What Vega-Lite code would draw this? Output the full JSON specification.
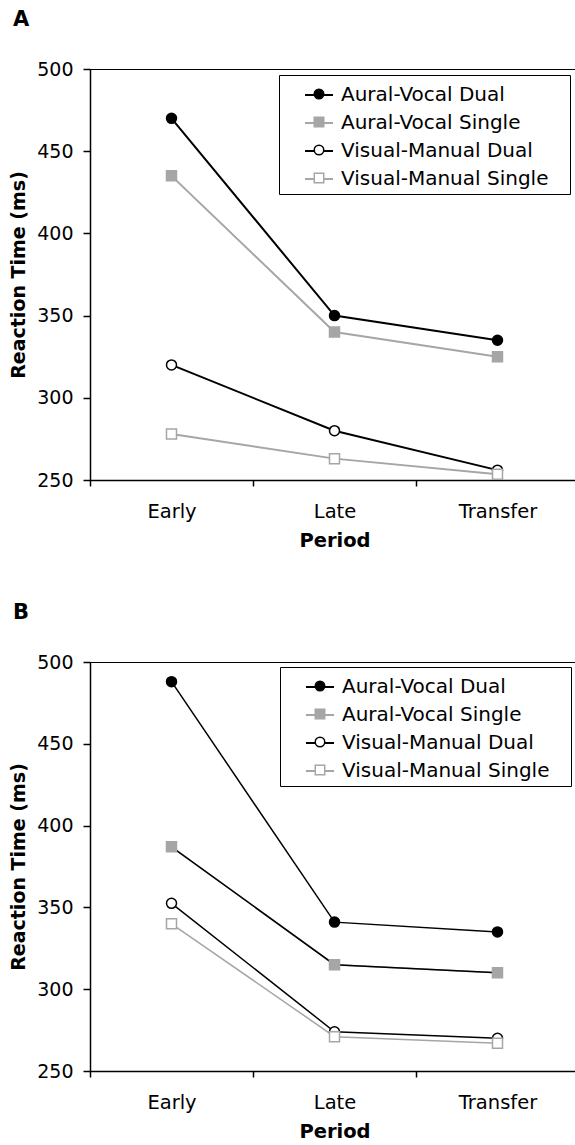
{
  "$schema": "https://vega.github.io/schema/vega-lite/v6.json",
  "padding": {"left": 9, "top": 8, "right": 0, "bottom": 0},
  "background": "white",
  "config": {
    "font": "DejaVu Sans",
    "view": {"stroke": "#000000", "strokeWidth": 1},
    "axis": {"grid": false, "domainColor": "#000000", "domainWidth": 1.5, "tickColor": "#000000", "tickWidth": 1.5, "labelColor": "#000000", "titleColor": "#000000", "labelFont": "DejaVu Sans", "titleFont": "DejaVu Sans"},
    "legend": {"labelFont": "DejaVu Sans", "labelLimit": 400}
  },
  "datasets": {
    "a": [
      {"period": "Early", "series": "Aural-Vocal Dual", "rt": 470},
      {"period": "Late", "series": "Aural-Vocal Dual", "rt": 350},
      {"period": "Transfer", "series": "Aural-Vocal Dual", "rt": 335},
      {"period": "Early", "series": "Aural-Vocal Single", "rt": 435},
      {"period": "Late", "series": "Aural-Vocal Single", "rt": 340},
      {"period": "Transfer", "series": "Aural-Vocal Single", "rt": 325},
      {"period": "Early", "series": "Visual-Manual Dual", "rt": 320},
      {"period": "Late", "series": "Visual-Manual Dual", "rt": 280},
      {"period": "Transfer", "series": "Visual-Manual Dual", "rt": 256},
      {"period": "Early", "series": "Visual-Manual Single", "rt": 278},
      {"period": "Late", "series": "Visual-Manual Single", "rt": 263},
      {"period": "Transfer", "series": "Visual-Manual Single", "rt": 253.5}
    ],
    "b": [
      {"period": "Early", "series": "Aural-Vocal Dual", "rt": 488},
      {"period": "Late", "series": "Aural-Vocal Dual", "rt": 341},
      {"period": "Transfer", "series": "Aural-Vocal Dual", "rt": 335},
      {"period": "Early", "series": "Aural-Vocal Single", "rt": 387},
      {"period": "Late", "series": "Aural-Vocal Single", "rt": 315},
      {"period": "Transfer", "series": "Aural-Vocal Single", "rt": 310},
      {"period": "Early", "series": "Visual-Manual Dual", "rt": 352.5},
      {"period": "Late", "series": "Visual-Manual Dual", "rt": 274},
      {"period": "Transfer", "series": "Visual-Manual Dual", "rt": 270},
      {"period": "Early", "series": "Visual-Manual Single", "rt": 340},
      {"period": "Late", "series": "Visual-Manual Single", "rt": 271},
      {"period": "Transfer", "series": "Visual-Manual Single", "rt": 267}
    ]
  },
  "resolve": {
    "scale": {"x": "independent", "y": "independent", "color": "independent", "shape": "independent", "fill": "independent", "stroke": "independent"},
    "legend": {"color": "independent", "shape": "independent", "fill": "independent", "stroke": "independent"}
  },
  "spacing": 50,
  "vconcat": [
    {
      "data": {"name": "a"},
      "width": 489,
      "height": 411,
      "title": {"text": "A", "anchor": "start", "frame": "group", "fontSize": 21, "fontWeight": "bold", "font": "DejaVu Sans", "color": "#000000", "dx": -77, "offset": 30},
      "encoding": {
        "x": {"field": "period", "type": "nominal", "sort": ["Early", "Late", "Transfer"],
          "scale": {"type": "band", "paddingInner": 0, "paddingOuter": 0},
          "axis": {"title": "Period", "labelAngle": 0, "tickBand": "extent", "tickSize": 6, "labelPadding": 16, "labelFontSize": 19.5, "titleFontSize": 19.5, "titleFontWeight": "bold", "titlePadding": 11}},
        "y": {"field": "rt", "type": "quantitative",
          "scale": {"domain": [250, 500], "nice": false, "zero": false},
          "axis": {"title": "Reaction Time (ms)", "values": [250, 300, 350, 400, 450, 500], "tickSize": 7, "labelPadding": 10, "labelFontSize": 19, "titleFontSize": 19, "titleFontWeight": "bold", "titlePadding": 8}}
      },
      "layer": [
        {
          "mark": {"type": "line", "strokeWidth": 2},
          "encoding": {
            "color": {"field": "series", "type": "nominal",
              "scale": {"domain": ["Aural-Vocal Dual", "Aural-Vocal Single", "Visual-Manual Dual", "Visual-Manual Single"], "range": ["#000000", "#a6a6a6", "#000000", "#a6a6a6"]},
              "legend": {"title": " ", "titleOrient": "right", "titleFontSize": 20, "titlePadding": 17, "orient": "none", "legendX": 189, "legendY": 6, "symbolType": "stroke", "symbolSize": 784, "symbolStrokeWidth": 2, "symbolOffset": 20, "labelOffset": 7, "labelFontSize": 20, "labelColor": "#000000", "padding": 5, "rowPadding": 3, "strokeColor": "#000000"}}
          }
        },
        {
          "mark": {"type": "point", "filled": true, "size": 100, "strokeWidth": 1.5, "opacity": 1},
          "encoding": {
            "shape": {"field": "series", "type": "nominal", "scale": {"range": ["circle", "square", "circle", "square"]},
              "legend": {"title": null, "orient": "none", "legendX": 192, "legendY": 10, "symbolSize": 90, "symbolStrokeWidth": 1.5, "symbolOffset": 22, "labelOffset": 12, "labelFontSize": 20, "labelExpr": "' '", "padding": 5, "rowPadding": 8}},
            "fill": {"field": "series", "type": "nominal", "scale": {"range": ["#000000", "#a6a6a6", "#ffffff", "#ffffff"]}},
            "stroke": {"field": "series", "type": "nominal", "scale": {"range": ["#000000", "#a6a6a6", "#000000", "#a6a6a6"]}}
          }
        }
      ]
    },
    {
      "data": {"name": "b"},
      "width": 489,
      "height": 409,
      "title": {"text": "B", "anchor": "start", "frame": "group", "fontSize": 21, "fontWeight": "bold", "font": "DejaVu Sans", "color": "#000000", "dx": -77, "offset": 30},
      "encoding": {
        "x": {"field": "period", "type": "nominal", "sort": ["Early", "Late", "Transfer"],
          "scale": {"type": "band", "paddingInner": 0, "paddingOuter": 0},
          "axis": {"title": "Period", "labelAngle": 0, "tickBand": "extent", "tickSize": 6, "labelPadding": 16, "labelFontSize": 19.5, "titleFontSize": 19.5, "titleFontWeight": "bold", "titlePadding": 11}},
        "y": {"field": "rt", "type": "quantitative",
          "scale": {"domain": [250, 500], "nice": false, "zero": false},
          "axis": {"title": "Reaction Time (ms)", "values": [250, 300, 350, 400, 450, 500], "tickSize": 7, "labelPadding": 10, "labelFontSize": 19, "titleFontSize": 19, "titleFontWeight": "bold", "titlePadding": 8}}
      },
      "layer": [
        {
          "mark": {"type": "line", "strokeWidth": 1.5},
          "encoding": {
            "color": {"field": "series", "type": "nominal",
              "scale": {"domain": ["Aural-Vocal Dual", "Aural-Vocal Single", "Visual-Manual Dual", "Visual-Manual Single"], "range": ["#000000", "#a6a6a6", "#000000", "#a6a6a6"]},
              "legend": {"title": " ", "titleOrient": "right", "titleFontSize": 20, "titlePadding": 17, "orient": "none", "legendX": 190, "legendY": 5, "symbolType": "stroke", "symbolSize": 784, "symbolStrokeWidth": 2, "symbolOffset": 20, "labelOffset": 7, "labelFontSize": 20, "labelColor": "#000000", "padding": 5, "rowPadding": 3, "strokeColor": "#000000"}}
          }
        },
        {
          "transform": [{"filter": "datum.series === 'Aural-Vocal Single'"}],
          "mark": {"type": "line", "strokeWidth": 1.5, "color": "#000000"},
          "encoding": {}
        },
        {
          "mark": {"type": "point", "filled": true, "size": 100, "strokeWidth": 1.5, "opacity": 1},
          "encoding": {
            "shape": {"field": "series", "type": "nominal", "scale": {"range": ["circle", "square", "circle", "square"]},
              "legend": {"title": null, "orient": "none", "legendX": 193, "legendY": 9, "symbolSize": 90, "symbolStrokeWidth": 1.5, "symbolOffset": 22, "labelOffset": 12, "labelFontSize": 20, "labelExpr": "' '", "padding": 5, "rowPadding": 8}},
            "fill": {"field": "series", "type": "nominal", "scale": {"range": ["#000000", "#a6a6a6", "#ffffff", "#ffffff"]}},
            "stroke": {"field": "series", "type": "nominal", "scale": {"range": ["#000000", "#a6a6a6", "#000000", "#a6a6a6"]}}
          }
        }
      ]
    }
  ]
}
